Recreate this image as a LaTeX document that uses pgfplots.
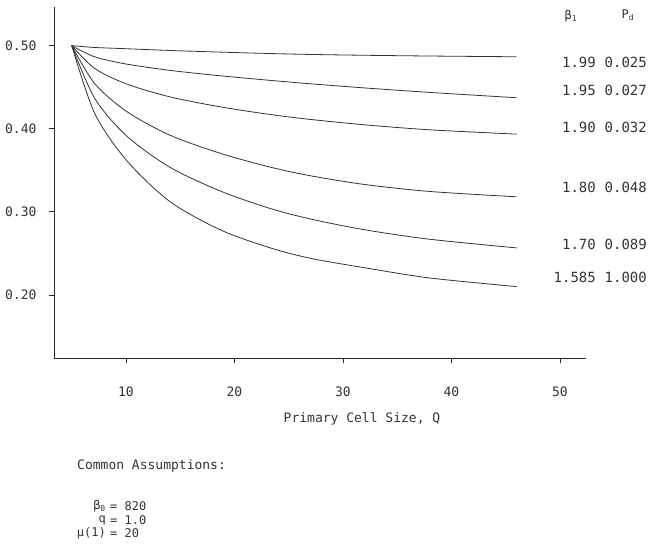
\documentclass[border=0pt]{standalone}
\usepackage{pgfplots}
\pgfplotsset{compat=1.18}
\usepackage{fontspec}
\setmainfont{DejaVu Sans Mono}
\tikzset{curve/.style={smooth, tension=0.5, line width=0.8pt, black!80}}
\begin{document}
\begin{tikzpicture}[x=1pt,y=1pt]
\useasboundingbox (-54,-198) rectangle (598,358);
\begin{axis}[
  at={(0,0)}, anchor=south west,
  scale only axis, width=532pt, height=351pt,
  xmin=3.364, xmax=52.40, ymin=0.1241, ymax=0.5465,
  axis x line*=bottom, axis y line*=left,
  axis line style={-, black!85, line width=0.8pt},
  xtick={10,20,30,40,50}, ytick={0.2,0.3,0.4,0.5},
  scaled y ticks=false,
  yticklabel style={/pgf/number format/fixed, /pgf/number format/fixed zerofill, /pgf/number format/precision=2},
  /pgf/number format/assume math mode=true,
  tick align=outside, major tick length=5pt,
  tick style={black!85, line width=0.8pt},
  ticklabel style={font=\fontsize{13}{13}\selectfont, text=black!80},
  xticklabel style={yshift=-20pt},
  yticklabel style={xshift=-9pt},
  clip=false,
]
% beta1 = 1.99
\addplot[curve] coordinates {
(5,0.500) (7.1,0.4978) (10,0.4963) (14,0.4942) (18.7,0.4922) (23.3,0.4905) (27,0.4894) (32,0.4884) (38,0.4875) (46,0.4866)};
% beta1 = 1.95
\addplot[curve] coordinates {
(5,0.500) (7.1,0.4866) (10,0.4779) (14,0.4703) (18.7,0.4637) (23.3,0.4582) (27,0.4541) (32,0.4491) (38,0.4437) (46,0.4373)};
% beta1 = 1.90
\addplot[curve] coordinates {
(5,0.500) (7.1,0.4727) (10,0.4541) (14,0.4385) (18.7,0.4263) (23.3,0.4171) (27,0.4112) (32,0.4047) (38,0.3987) (46,0.3935)};
% beta1 = 1.80
\addplot[curve] coordinates {
(5,0.500) (7.1,0.4546) (10,0.4213) (14,0.3925) (18.7,0.3704) (23.3,0.3538) (27,0.3434) (32,0.3329) (38,0.3245) (46,0.3181)};
% beta1 = 1.70
\addplot[curve] coordinates {
(5,0.500) (7.1,0.4370) (10,0.3920) (14,0.3540) (18.7,0.3250) (23.3,0.3040) (27,0.2914) (32,0.2784) (38,0.2670) (46,0.2566)};
% beta1 = 1.585
\addplot[curve] coordinates {
(5,0.500) (7.1,0.4190) (10,0.3627) (14,0.3128) (18.7,0.2783) (23.3,0.2566) (27,0.2441) (32,0.2327) (38,0.2204) (46,0.2100)};
\end{axis}
\begin{scope}[every node/.style={text=black!80, inner sep=0pt}]
\node[font=\fontsize{12}{12}\selectfont] at (517,342) {β\textsubscript{1}};
\node[font=\fontsize{12}{12}\selectfont] at (574,343) {P\textsubscript{d}};
\foreach \a/\b/\y in {1.99/0.025/296, 1.95/0.027/268, 1.90/0.032/231, 1.80/0.048/171, 1.70/0.089/114, 1.585/1.000/81}{
  \node[anchor=east, font=\fontsize{14}{14}\selectfont] at (542,\y) {\a};
  \node[anchor=east, font=\fontsize{14}{14}\selectfont] at (593,\y) {\b};
}
\node[font=\fontsize{13}{13}\selectfont] at (308,-61) {Primary Cell Size, Q};
\node[anchor=west, font=\fontsize{13}{13}\selectfont] at (23,-108) {Common Assumptions:};
\foreach \l/\r/\y in {β\textsubscript{0}/820/-148.5, q/1.0/-162, μ(1)/20/-175.5}{
  \node[anchor=east, font=\fontsize{12}{12}\selectfont] at (52,\y) {\l};
  \node[anchor=west, font=\fontsize{12}{12}\selectfont] at (56,\y) {= \r};
}
\end{scope}
\end{tikzpicture}
\end{document}
